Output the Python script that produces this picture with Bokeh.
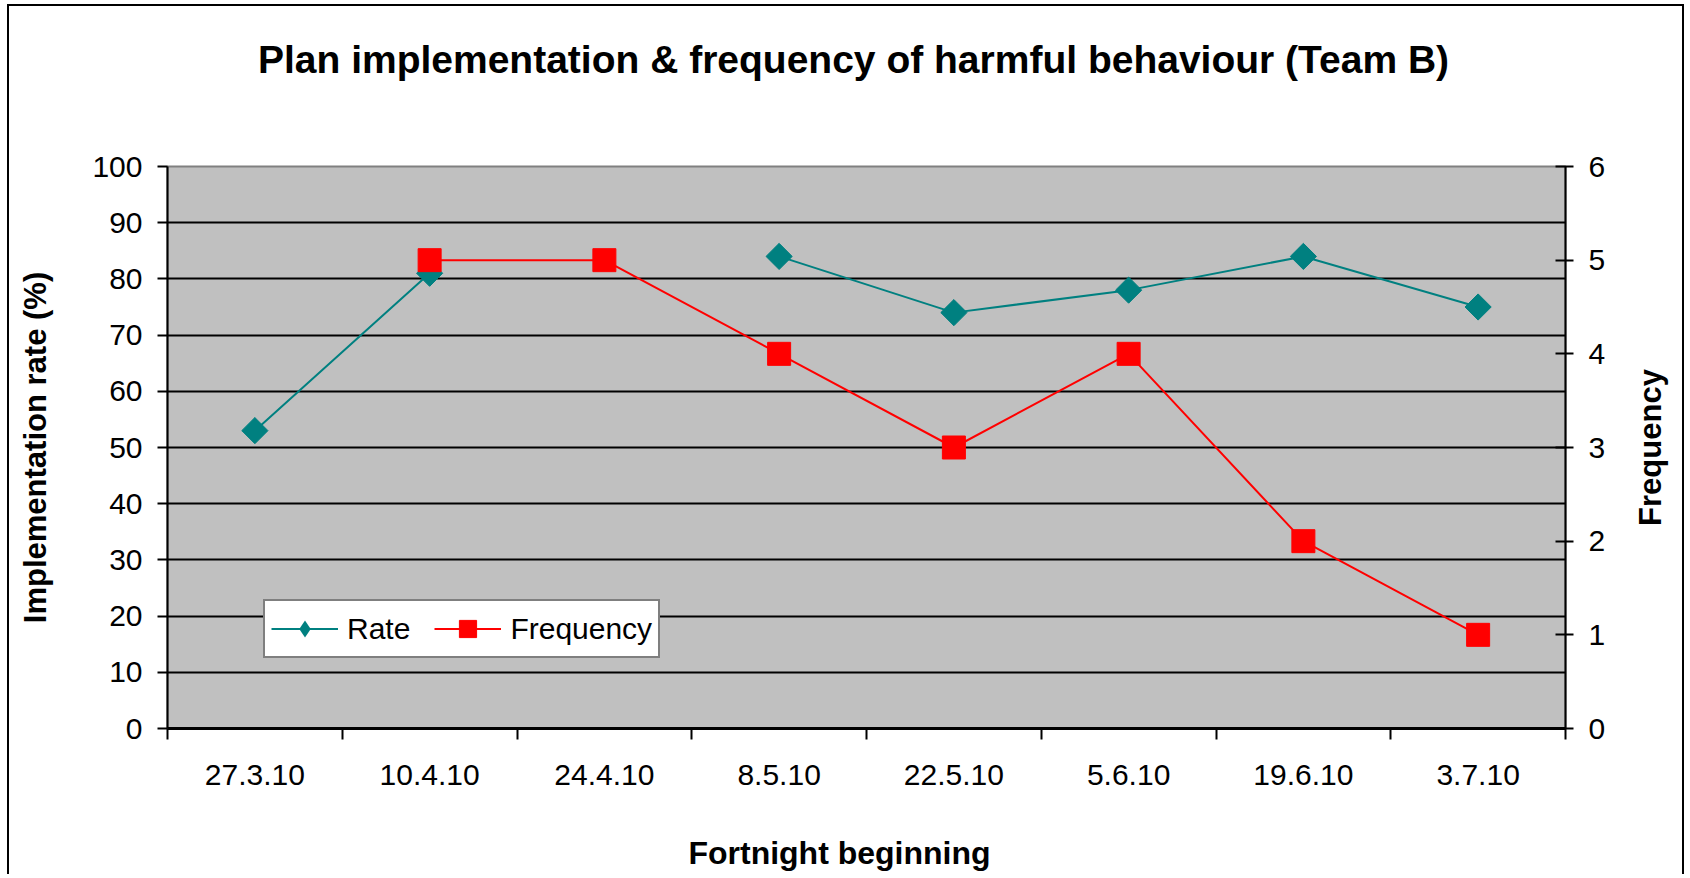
import math
from bokeh.plotting import figure
from bokeh.models import (Range1d, LinearAxis, FixedTicker, Legend, LegendItem, Grid, Label)
from bokeh.embed import file_html
from bokeh.resources import INLINE

# ---- data ----
dates = ["27.3.10", "10.4.10", "24.4.10", "8.5.10", "22.5.10", "5.6.10", "19.6.10", "3.7.10"]
rate = [53, 81, float("nan"), 84, 74, 78, 84, 75]
frequency = [float("nan"), 5, 5, 4, 3, 4, 2, 1]
rate_ticks = [0, 10, 20, 30, 40, 50, 60, 70, 80, 90, 100]
freq_ticks = [0, 1, 2, 3, 4, 5, 6]
title_text = "Plan implementation & frequency of harmful behaviour (Team B)"
x_title = "Fortnight beginning"
y_title = "Implementation rate (%)"
y2_title = "Frequency"

TEAL = "#008080"
RED = "#FF0000"
FONT = "Liberation Sans"

W, H = 1677, 870
FL, FR, FT, FB = 158, 121, 160, 148   # frame borders inside the canvas
FH = H - FT - FB

xs = [i + 0.5 for i in range(len(dates))]
bounds = list(range(len(dates) + 1))

p = figure(width=W, height=H, output_backend="svg", toolbar_location=None, title=None,
           x_range=Range1d(0, len(dates)), y_range=Range1d(0, 100),
           min_border_left=FL, min_border_right=FR, min_border_top=FT, min_border_bottom=FB,
           x_axis_location=None, y_axis_location=None,
           styles={"border-left": "2px solid black", "border-top": "2px solid black",
                   "border-right": "2px solid black", "margin-left": "7px", "margin-top": "4px"})
p.extra_y_ranges = {"freq": Range1d(0, 6)}
p.background_fill_color = "#C0C0C0"
p.border_fill_color = "white"
p.outline_line_color = "#808080"
p.outline_line_width = 2
p.xgrid.visible = False
p.ygrid.visible = False

# grid
grid = Grid(dimension=1, ticker=FixedTicker(ticks=rate_ticks[1:-1]),
            grid_line_color="black", grid_line_width=2)
p.add_layout(grid)

# x axis
xaxis = LinearAxis(ticker=FixedTicker(ticks=xs, minor_ticks=bounds))
xaxis.major_label_overrides = {x: d for x, d in zip(xs, dates)}
xaxis.major_tick_out = 0
xaxis.major_tick_in = 0
xaxis.minor_tick_out = 11
xaxis.minor_tick_in = 0
xaxis.minor_tick_line_color = "black"
xaxis.minor_tick_line_width = 2
xaxis.axis_line_color = "black"
xaxis.axis_line_width = 3
xaxis.major_label_standoff = 25
xaxis.major_label_text_font = FONT
xaxis.major_label_text_font_size = "30px"
xaxis.major_label_text_color = "black"
p.add_layout(xaxis, "below")

# left axis
laxis = LinearAxis(ticker=FixedTicker(ticks=rate_ticks))
laxis.major_tick_out = 10
laxis.major_tick_in = 0
laxis.minor_tick_out = 0
laxis.minor_tick_in = 0
laxis.major_tick_line_width = 2
laxis.axis_line_width = 2
laxis.major_label_standoff = 15
laxis.major_label_text_font = FONT
laxis.major_label_text_font_size = "30px"
laxis.major_label_text_color = "black"
laxis.axis_label = y_title
laxis.axis_label_text_font = FONT
laxis.axis_label_text_font_size = "31px"
laxis.axis_label_text_font_style = "bold"
laxis.axis_label_text_color = "black"
laxis.axis_label_standoff = 36
p.add_layout(laxis, "left")

# right axis (ticks and numbers)
raxis = LinearAxis(y_range_name="freq", ticker=FixedTicker(ticks=freq_ticks))
raxis.major_tick_out = 8
raxis.major_tick_in = 10
raxis.minor_tick_out = 0
raxis.minor_tick_in = 0
raxis.major_tick_line_width = 2
raxis.axis_line_width = 2
raxis.major_label_standoff = 15
raxis.major_label_text_font = FONT
raxis.major_label_text_font_size = "30px"
raxis.major_label_text_color = "black"
p.add_layout(raxis, "right")

# texts placed in the side panels, outside the axes
p.add_layout(Label(x=844 - FL, y=107, x_units="screen", y_units="screen",
                   text=title_text, text_font=FONT, text_font_size="39px",
                   text_font_style="bold", text_color="black",
                   text_align="center", text_baseline="middle"), "above")
p.add_layout(Label(x=830 - FL, y=-29, x_units="screen", y_units="screen",
                   text=x_title, text_font=FONT, text_font_size="32px",
                   text_font_style="bold", text_color="black",
                   text_align="center", text_baseline="middle"), "below")
p.add_layout(Label(x=42, y=FH / 2, x_units="screen", y_units="screen",
                   text=y2_title, angle=math.pi / 2, text_font=FONT, text_font_size="31px",
                   text_font_style="bold", text_color="black",
                   text_align="center", text_baseline="middle"), "right")

# series
r_line = p.line(xs, rate, line_color=TEAL, line_width=2)
r_mark = p.scatter(xs, rate, marker="square", angle=math.pi / 4, size=18.5,
                   fill_color=TEAL, line_color=TEAL)
r_key = p.scatter(xs, rate, marker="diamond", size=0, fill_color=TEAL, line_color=TEAL,
                  line_width=0)
f_line = p.line(xs, frequency, line_color=RED, line_width=2, y_range_name="freq")
f_mark = p.scatter(xs, frequency, marker="square", size=23,
                   fill_color=RED, line_color=RED, y_range_name="freq")

legend = Legend(items=[LegendItem(label="Rate", renderers=[r_line, r_key]),
                       LegendItem(label="Frequency", renderers=[f_line, f_mark])],
                orientation="horizontal", location=(96, 70))
legend.glyph_width = 67
legend.glyph_height = 43
legend.padding = 6
legend.spacing = 24
legend.label_standoff = 9
legend.margin = 0
legend.border_line_color = "black"
legend.border_line_width = 2
legend.background_fill_color = "white"
legend.background_fill_alpha = 1
legend.label_text_font = FONT
legend.label_text_font_size = "30px"
legend.label_text_color = "black"
legend.label_height = 30
p.add_layout(legend, "center")

open("out.html", "w").write(file_html(p, INLINE))
